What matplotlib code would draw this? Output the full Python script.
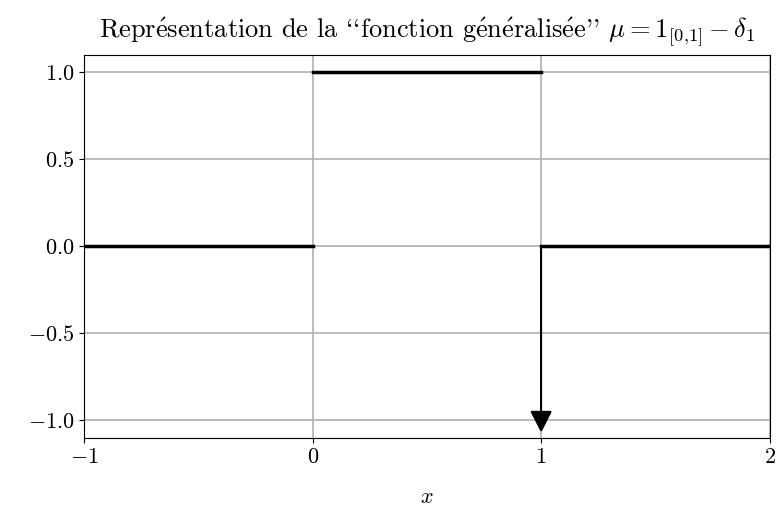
import matplotlib
matplotlib.use("Agg")
import matplotlib.pyplot as plt

plt.rcParams['font.family'] = ['cmr10', 'DejaVu Serif']
plt.rcParams['mathtext.fontset'] = 'cm'
plt.rcParams['axes.formatter.use_mathtext'] = True
plt.rcParams['font.size'] = 16

# segments of mu = 1_[0,1] - delta_1
seg_x = [[-1, 0], [0, 1], [1, 2]]
seg_y = [[0, 0], [1, 1], [0, 0]]
dirac_x = 1
dirac_len = -0.95

fig = plt.figure(figsize=(7.79, 5.12), dpi=100)
ax = fig.gca()
for sx, sy in zip(seg_x, seg_y):
    ax.plot(sx, sy, color='black', lw=2.5)
ax.arrow(dirac_x, 0, 0, dirac_len, color='black', lw=1.2,
         head_width=0.085, head_length=0.11, length_includes_head=False, zorder=3)

ax.set_xlim(-1, 2)
ax.set_ylim(-1.1, 1.1)
ax.set_xticks([-1, 0, 1, 2])
ax.set_yticks([-1.0, -0.5, 0.0, 0.5, 1.0])
ax.grid(True, color='#b0b0b0', lw=1.2)
ax.set_axisbelow(True)
ax.set_xlabel("$x$", labelpad=15)
ax.set_title("Repr$\\mathrm{\\acute{e}}$sentation de la ``fonction g$\\mathrm{\\acute{e}}$n$\\mathrm{\\acute{e}}$ralis$\\mathrm{\\acute{e}}$e'' $\\mu = 1_{[0{,}1]} - \\delta_1$",
             fontsize=19, pad=12)

fig.subplots_adjust(left=0.108, right=0.988, top=0.893, bottom=0.145)
fig.savefig("out.png")
